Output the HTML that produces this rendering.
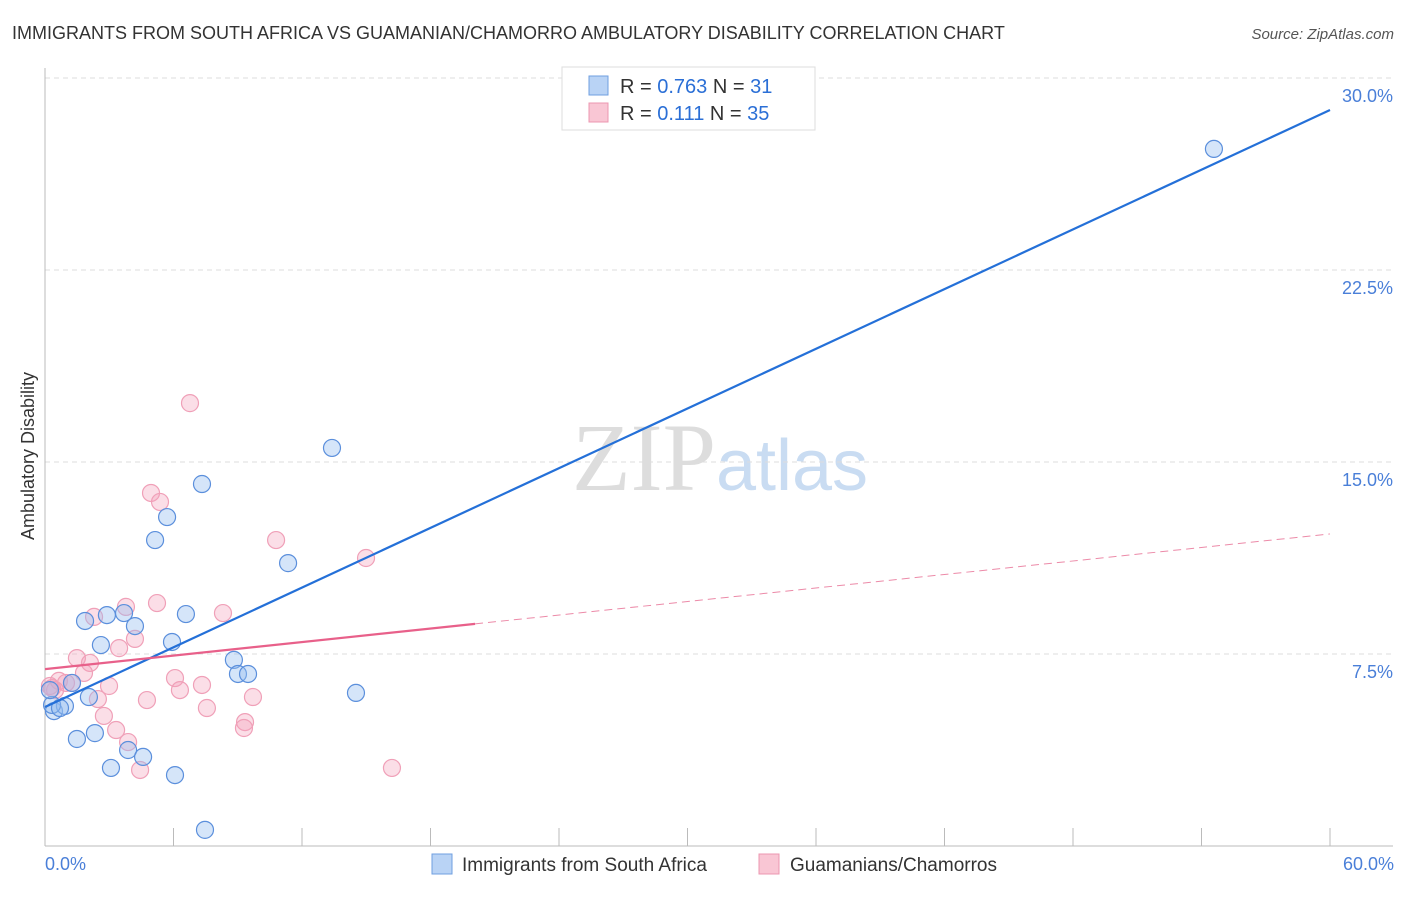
<!DOCTYPE html>
<html><head><meta charset="utf-8"><style>
body{margin:0;background:#fff;font-family:"Liberation Sans",sans-serif;}
svg text{font-family:"Liberation Sans",sans-serif;}
</style></head><body>
<svg id="chart" width="1406" height="892" xmlns="http://www.w3.org/2000/svg">
<text x="12" y="39" font-size="18" fill="#333">IMMIGRANTS FROM SOUTH AFRICA VS GUAMANIAN/CHAMORRO AMBULATORY DISABILITY CORRELATION CHART</text>
<text x="1394" y="39" font-size="15" fill="#555" text-anchor="end" font-style="italic">Source: ZipAtlas.com</text>
<text x="720" y="490" font-size="96" text-anchor="middle" fill="#ddd" font-family="Liberation Serif"><tspan fill="#ddd" font-family="Liberation Serif">ZIP</tspan><tspan fill="#c9dcf2" font-family="Liberation Sans" font-size="72">atlas</tspan></text>
<text transform="translate(34,456) rotate(-90)" font-size="18" fill="#333" text-anchor="middle">Ambulatory Disability</text>
<g id="grid"></g><g id="pts"></g><g id="lines"></g>
<g>
<rect x="562" y="67" width="253" height="63" fill="#fff" stroke="#ddd"/>
<rect x="589" y="76" width="19" height="19" fill="#b9d3f5" stroke="#6f9fe0"/>
<rect x="589" y="103" width="19" height="19" fill="#f9c6d4" stroke="#ec97b0"/>
<text x="620" y="93" font-size="20" fill="#333">R = <tspan fill="#2b6fd6">0.763</tspan>   N = <tspan fill="#2b6fd6"> 31</tspan></text>
<text x="620" y="120" font-size="20" fill="#333">R = <tspan fill="#2b6fd6">  0.111</tspan>   N = <tspan fill="#2b6fd6">35</tspan></text>
</g>
<g>
<rect x="432" y="854" width="20" height="20" fill="#b9d3f5" stroke="#6f9fe0"/>
<text x="462" y="871" font-size="19" fill="#333">Immigrants from South Africa</text>
<rect x="759" y="854" width="20" height="20" fill="#f9c6d4" stroke="#ec97b0"/>
<text x="790" y="871" font-size="19" fill="#333">Guamanians/Chamorros</text>
</g>
<text x="45" y="870" font-size="18" fill="#4a7fd8">0.0%</text>
<text x="1394" y="870" font-size="18" fill="#4a7fd8" text-anchor="end">60.0%</text>
</svg>
<script>
const yTicks=[7.5,15,22.5,30];
const yTickLabels=["7.5%","15.0%","22.5%","30.0%"];
const blueX=[54.58,13.40,7.33,5.70,5.14,11.35,6.58,2.89,3.69,1.87,4.20,2.61,5.93,8.82,9.01,9.48,14.52,2.05,0.42,0.93,0.33,1.49,2.33,3.08,3.88,4.58,6.07,7.47,1.26,0.70,0.23];
const blueY=[27.23,15.55,14.14,12.85,11.95,11.05,9.06,9.02,9.10,8.79,8.59,7.85,7.97,7.27,6.72,6.72,5.98,5.82,5.27,5.47,5.51,4.18,4.41,3.05,3.75,3.48,2.77,0.63,6.37,5.39,6.09];
const pinkX=[6.77,4.95,5.37,10.79,14.99,5.23,8.31,3.78,2.29,4.20,3.46,1.49,2.10,1.82,0.65,0.98,1.26,0.33,0.47,2.99,6.07,7.33,6.30,2.47,4.76,9.71,7.56,2.75,3.32,9.34,9.29,3.88,4.44,16.20,0.23];
const pinkY=[17.30,13.79,13.44,11.95,11.25,9.49,9.10,9.34,8.95,8.09,7.73,7.34,7.15,6.76,6.45,6.37,6.37,6.17,6.09,6.25,6.56,6.29,6.09,5.74,5.70,5.82,5.39,5.08,4.53,4.84,4.61,4.06,2.97,3.05,6.25];
const blueFit=[5.43,28.75];
const pinkFit=[6.91,12.19];
const pinkSolidEnd=20.08;
const NS="http://www.w3.org/2000/svg";
const xs=v=>45+v/60*1285, ys=v=>846-v/30*768;
function mk(t,a,p){const e=document.createElementNS(NS,t);for(const k in a)e.setAttribute(k,a[k]);p.appendChild(e);return e;}
const grid=document.getElementById('grid');
yTicks.forEach((t,i)=>{
 const l=mk('line',{x1:45,x2:1393,y1:ys(t),y2:ys(t),stroke:'#ddd','stroke-dasharray':'5,4'},grid);
 
 
 const tx=mk('text',{x:1393,y:ys(t)+24,'font-size':18,fill:'#4a7fd8','text-anchor':'end'},grid);
 tx.textContent=yTickLabels[i];
 
 
});
mk('line',{x1:45,x2:45,y1:68,y2:846,stroke:'#bbb'},grid);
mk('line',{x1:45,x2:1393,y1:846,y2:846,stroke:'#bbb'},grid);
for(let i=1;i<=10;i++){const t=mk('line',{x1:xs(i*6),x2:xs(i*6),y1:828,y2:846,stroke:'#bbb'},grid);
 
 }
const pts=document.getElementById('pts');
pinkX.forEach((x,i)=>{const c=mk('circle',{cx:xs(x),cy:ys(pinkY[i]),r:8.5,fill:'rgba(244,160,185,0.35)',stroke:'#f0a0b8','stroke-width':1.2},pts);
 
 });
blueX.forEach((x,i)=>{const c=mk('circle',{cx:xs(x),cy:ys(blueY[i]),r:8.5,fill:'rgba(150,190,240,0.4)',stroke:'#5b8fdc','stroke-width':1.2},pts);
 
 });
const ln=document.getElementById('lines');
const b=mk('line',{x1:xs(0),y1:ys(blueFit[0]),x2:xs(60),y2:ys(blueFit[1]),stroke:'#2470d8','stroke-width':2.2},ln);


const pAt=x=>pinkFit[0]+(pinkFit[1]-pinkFit[0])*x/60;
const p1=mk('line',{x1:xs(0),y1:ys(pinkFit[0]),x2:xs(pinkSolidEnd),y2:ys(pAt(pinkSolidEnd)),stroke:'#e8608a','stroke-width':2.2},ln);


const p2=mk('line',{x1:xs(pinkSolidEnd),y1:ys(pAt(pinkSolidEnd)),x2:xs(60),y2:ys(pinkFit[1]),stroke:'#ec8aa8','stroke-width':1,'stroke-dasharray':'8,5'},ln);


</script>
</body></html>
